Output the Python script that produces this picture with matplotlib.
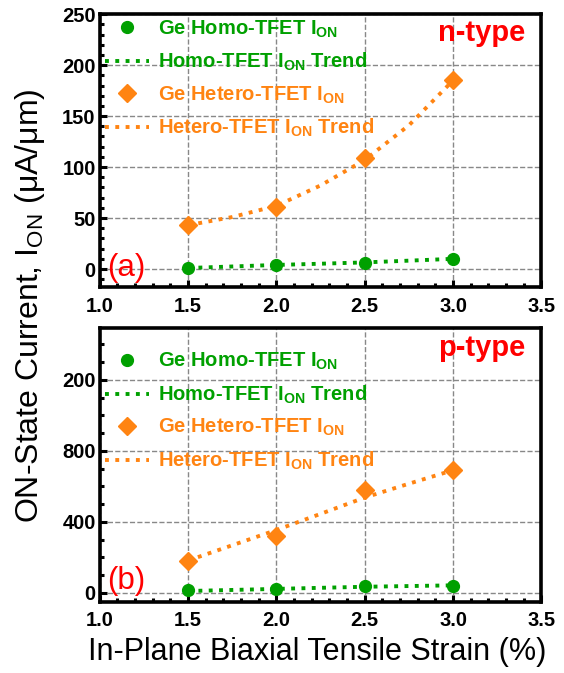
import numpy as np
from matplotlib import pyplot as plt

plt.rcParams['font.family'] = ['Liberation Sans', 'DejaVu Sans']
plt.rcParams['mathtext.fontset'] = 'custom'
plt.rcParams['mathtext.rm'] = 'Liberation Sans'
plt.rcParams['mathtext.bf'] = 'Liberation Sans:bold'

# strain (%)
strain = [1.5, 2.0, 2.5, 3.0]

# n-type ON current (uA/um)
n_homo = [1, 4, 6, 10]
n_hetero = [43, 61, 109, 185]
# p-type ON current (uA/um)
p_homo = [13, 20, 36, 41]
p_hetero = [182, 320, 582, 691]

# trend lines
trend_x = [1.5, 1.75, 2.0, 2.25, 2.5, 2.75, 3.0]
n_homo_trend = [1, 2.5, 4, 5.2, 6.5, 8.2, 10]
n_hetero_trend = [43, 51, 62, 82, 107, 141, 185]
p_homo_trend = [10, 16, 22, 28, 34, 38, 42]
p_hetero_trend = [182, 268, 354, 445, 537, 615, 691]

xticks = [1.0, 1.5, 2.0, 2.5, 3.0, 3.5]
n_yticks = [0, 50, 100, 150, 200, 250]
p_yticks = [0, 400, 800, 1200]
p_yticklabels = ['0', '400', '800', '200']

green = '#00a000'
orange = '#ff8412'

fig = plt.figure(figsize=(5.64, 6.73), dpi=100)
ax1 = fig.add_axes([0.177, 0.573, 0.783, 0.406])
ax2 = fig.add_axes([0.177, 0.106, 0.783, 0.407])


def draw(ax, homo, hetero, homo_tr, hetero_tr, leg_y):
    ax.plot(strain, homo, 'o', color=green, ms=8.5, zorder=4,
            label=r'Ge Homo-TFET I$_\mathbf{ON}$')
    ax.plot(trend_x, homo_tr, ':', color=green, lw=2.8, zorder=3,
            label=r'Homo-TFET I$_\mathbf{ON}$ Trend')
    ax.plot(strain, hetero, 'D', color=orange, ms=9, zorder=4,
            label=r'Ge Hetero-TFET I$_\mathbf{ON}$')
    ax.plot(trend_x, hetero_tr, ':', color=orange, lw=2.8, zorder=3,
            label=r'Hetero-TFET I$_\mathbf{ON}$ Trend')
    ax.set_xlim(1.0, 3.5)
    ax.set_xticks(xticks)
    ax.set_xticks(np.arange(1.0, 3.51, 0.1), minor=True)
    ax.grid(True, which='major', color='#888888', ls='--', lw=1.0)
    ax.tick_params(which='both', direction='in', top=False, right=False,
                   labelsize=14.5, width=2.2)
    ax.tick_params(axis='x', pad=7)
    ax.tick_params(axis='y', pad=3)
    ax.tick_params(which='major', length=5)
    ax.tick_params(which='minor', length=3)
    for s in ax.spines.values():
        s.set_linewidth(2.6)
    ax.legend(loc='upper left', bbox_to_anchor=(0.012, leg_y), frameon=False,
              prop={'weight': 'bold', 'size': 14.5}, labelcolor='linecolor',
              handlelength=2.2, handletextpad=0.45, labelspacing=0.56,
              borderpad=0.0, borderaxespad=0.0)


draw(ax1, n_homo, n_hetero, n_homo_trend, n_hetero_trend, 0.985)
ax1.set_ylim(-18, 250)
ax1.set_yticks(n_yticks)
ax1.set_yticks(np.arange(-10, 251, 10), minor=True)
ax1.text(0.016, 0.07, '(a)', transform=ax1.transAxes, color='red', fontsize=22.5,
         va='center')
ax1.text(0.963, 0.93, 'n-type', transform=ax1.transAxes, color='red', fontsize=21,
         fontweight='bold', ha='right', va='center')

draw(ax2, p_homo, p_hetero, p_homo_trend, p_hetero_trend, 0.915)
ax2.set_ylim(-50, 1494)
ax2.set_yticks(p_yticks)
ax2.set_yticklabels(p_yticklabels)
ax2.set_yticks(np.arange(0, 1451, 100), minor=True)
ax2.text(0.016, 0.075, '(b)', transform=ax2.transAxes, color='red', fontsize=22.5,
         va='center')
ax2.text(0.963, 0.927, 'p-type', transform=ax2.transAxes, color='red', fontsize=21,
         fontweight='bold', ha='right', va='center')

for ax in (ax1, ax2):
    for lab in ax.get_xticklabels() + ax.get_yticklabels():
        lab.set_fontweight('bold')

fig.text(0.053, 0.545, r'ON-State Current, I$_\mathrm{ON}$ (μA/μm)', rotation=90,
         ha='center', va='center', fontsize=23)
fig.text(0.562, 0.031, 'In-Plane Biaxial Tensile Strain (%)', ha='center',
         va='center', fontsize=22)

fig.savefig('out.png', dpi=100)
